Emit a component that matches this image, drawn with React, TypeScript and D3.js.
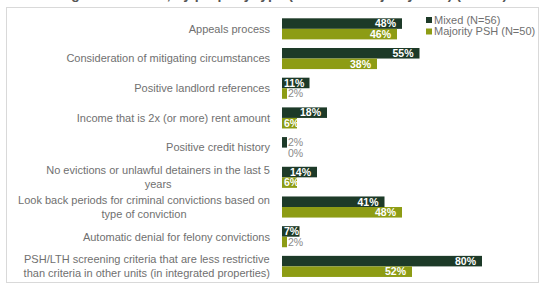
import React, { useEffect, useRef } from 'react';
import * as d3 from 'd3';

const categories = [
  'Appeals process',
  'Consideration of mitigating circumstances',
  'Positive landlord references',
  'Income that is 2x (or more) rent amount',
  'Positive credit history',
  'No evictions or unlawful detainers in the last 5\nyears',
  'Look back periods for criminal convictions based on\ntype of conviction',
  'Automatic denial for felony convictions',
  'PSH/LTH screening criteria that are less restrictive\nthan criteria in other units (in integrated properties)',
];
const mixed = [48, 55, 11, 18, 2, 14, 41, 7, 80];
const majorityPsh = [46, 38, 2, 6, 0, 6, 48, 2, 52];
const seriesNames = ['Mixed (N=56)', 'Majority PSH (N=50)'];
const seriesColors = ['#1d3a28', '#8d9c14'];

const App: React.FC = () => {
  const svgRef = useRef<SVGSVGElement>(null);

  useEffect(() => {
    if (!svgRef.current) return;
    document.body.style.margin = '0';

    const width = 543;
    const height = 289;
    const font = '"Liberation Sans", Arial, sans-serif';

    const svg = d3.select(svgRef.current)
      .attr('width', width)
      .attr('height', height)
      .style('display', 'block')
      .style('background', '#fff')
      .html('');

    // title above the frame, mostly cut off by the top edge
    svg.append('text')
      .attr('x', 12)
      .attr('y', -1)
      .attr('font-family', font)
      .attr('font-size', 14)
      .attr('font-weight', 'bold')
      .attr('fill', '#555')
      .text('Screening criteria used, by property type (mixed vs. majority PSH) (N=106)');

    svg.append('rect')
      .attr('x', 6.5)
      .attr('y', 7.5)
      .attr('width', 532)
      .attr('height', 275)
      .attr('fill', '#fff')
      .attr('stroke', '#d9d9d9');

    const idx = categories.map((_, i) => i);
    const y = d3.scaleBand<number>()
      .domain(idx)
      .range([13.85, 281.4])
      .paddingInner(0.29)
      .paddingOuter(0.15);

    const inner = d3.scaleBand<number>()
      .domain([0, 1])
      .range([0, y.bandwidth()]);

    const x = d3.scaleLinear().domain([0, 80]).range([282, 482]);
    const labelRight = 270;

    // category labels
    categories.forEach((cat, i) => {
      const lines = cat.split('\n');
      const cy = (y(i) as number) + y.bandwidth() / 2;
      const texts = lines.map((line, j) =>
        svg.append('text')
          .attr('x', labelRight)
          .attr('y', cy + (j - (lines.length - 1) / 2) * 14)
          .attr('dy', '0.35em')
          .attr('text-anchor', 'end')
          .attr('font-family', font)
          .attr('font-size', 11)
          .attr('fill', '#707070')
          .text(line));
      if (lines.length > 1) {
        const maxW = d3.max(texts, (t) => (t.node() as SVGTextElement).getComputedTextLength()) || 0;
        texts.forEach((t) => t.attr('text-anchor', 'middle').attr('x', labelRight - maxW / 2));
      }
    });

    // bars
    [mixed, majorityPsh].forEach((values, s) => {
      values.forEach((v, i) => {
        const by = (y(i) as number) + (inner(s) as number);
        const bh = inner.bandwidth();
        const end = x(v);
        svg.append('rect')
          .attr('x', x(0))
          .attr('y', by)
          .attr('width', end - x(0))
          .attr('height', bh)
          .attr('fill', seriesColors[s]);

        const t = svg.append('text')
          .attr('y', by + bh / 2)
          .attr('dy', '0.36em')
          .attr('font-family', font)
          .attr('font-size', 10.5)
          .attr('font-weight', 'bold')
          .text(`${v}%`);
        if (v < 5) {
          t.attr('x', x(0) + 6).attr('fill', '#8a8a8a').attr('font-weight', 'normal');
        } else {
          const w = (t.node() as SVGTextElement).getComputedTextLength();
          t.attr('x', Math.max(end - 6 - w, x(0) + 2)).attr('fill', '#fff');
        }
      });
    });

    // legend
    const legend = svg.append('g').attr('transform', 'translate(426, 20)');
    seriesNames.forEach((name, s) => {
      const g = legend.append('g').attr('transform', `translate(0, ${s * 11.5})`);
      g.append('rect')
        .attr('x', 0)
        .attr('y', -3)
        .attr('width', 6)
        .attr('height', 6)
        .attr('fill', seriesColors[s]);
      g.append('text')
        .attr('x', 8)
        .attr('y', 0)
        .attr('dy', '0.35em')
        .attr('font-family', font)
        .attr('font-size', 11)
        .attr('fill', '#707070')
        .text(name);
    });
  }, []);

  return <svg ref={svgRef}></svg>;
};

export default App;
